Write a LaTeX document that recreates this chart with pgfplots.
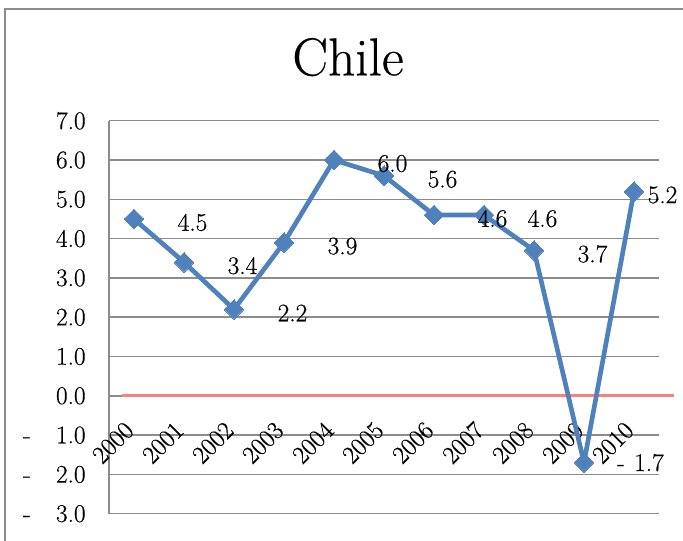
\documentclass[border=0pt]{standalone}
\usepackage{fontspec}
\setmainfont{Latin Modern Roman}[FakeBold=0.5]
\usepackage{pgfplots}
\pgfplotsset{compat=1.18}

\definecolor{lineblue}{RGB}{79,129,189}
\definecolor{zerored}{RGB}{255,125,125}
\definecolor{gridgray}{RGB}{140,140,140}

\newcommand{\lblfont}{\fontsize{19}{22}\selectfont}

\begin{document}
\begin{tikzpicture}
  % page = 683x540 px at 0.75pt per px
  \useasboundingbox (0,0) rectangle (512.25pt,405pt);
  \draw[gridgray, line width=1.2pt] (3.75pt,-20pt) rectangle (540pt,398.25pt);
  \node[anchor=base, font=\fontsize{40}{44}\selectfont] at (261pt,348.5pt) {Chile};

  \begin{axis}[
      at={(81.75pt,19.7pt)}, anchor=south west,
      scale only axis,
      width=412.5pt, height=294.75pt,
      xmin=-0.5, xmax=10.5,
      ymin=-3, ymax=7,
      clip=false,
      axis lines*=left,
      axis line style={gridgray, line width=1.1pt},
      ymajorgrids,
      grid style={gridgray, line width=1.1pt},
      major tick length=0pt,
      xtick={0,1,2,3,4,5,6,7,8,9,10},
      xticklabels={2000,2001,2002,2003,2004,2005,2006,2007,2008,2009,2010},
      xticklabel style={font=\lblfont, xshift=-1pt, yshift=68pt, rotate=45, anchor=east},
      ytick={-3,-2,-1,0,1,2,3,4,5,6,7},
      yticklabels={{-\hspace{19pt}3.0},{-\hspace{19pt}2.0},{-\hspace{19pt}1.0},
                   0.0,1.0,2.0,3.0,4.0,5.0,6.0,7.0},
      yticklabel style={font=\lblfont, xshift=-14pt},
    ]
    % zero line
    \addplot[zerored, line width=2.2pt] coordinates {(-0.23,0) (10.8,0)};

    % growth series
    \addplot[lineblue, line width=3.5pt, line join=round,
             mark=square*, mark size=5.2pt,
             mark options={rotate=45, fill=lineblue, draw=lineblue, line width=0pt}]
      coordinates {
        (0,4.5) (1,3.4) (2,2.2) (3,3.9) (4,6.0) (5,5.6)
        (6,4.6) (7,4.6) (8,3.7) (9,-1.7) (10,5.2)
      };

    % data labels (offset as in the source chart)
    \addplot[draw=none, mark=none, nodes near coords,
             point meta=explicit symbolic,
             nodes near coords style={anchor=center, font=\lblfont, inner sep=0pt}]
      coordinates {
        (1.17,4.41) [4.5]
        (2.17,3.31) [3.4]
        (3.17,2.11) [2.2]
        (4.17,3.81) [3.9]
        (5.17,5.91) [6.0]
        (6.17,5.51) [5.6]
        (7.17,4.51) [4.6]
        (8.17,4.51) [4.6]
        (9.17,3.61) [3.7]
        (10.13,-1.7) [{-\hspace{7pt}1.7}]
        (10.57,5.11) [5.2]
      };
  \end{axis}
\end{tikzpicture}
\end{document}
